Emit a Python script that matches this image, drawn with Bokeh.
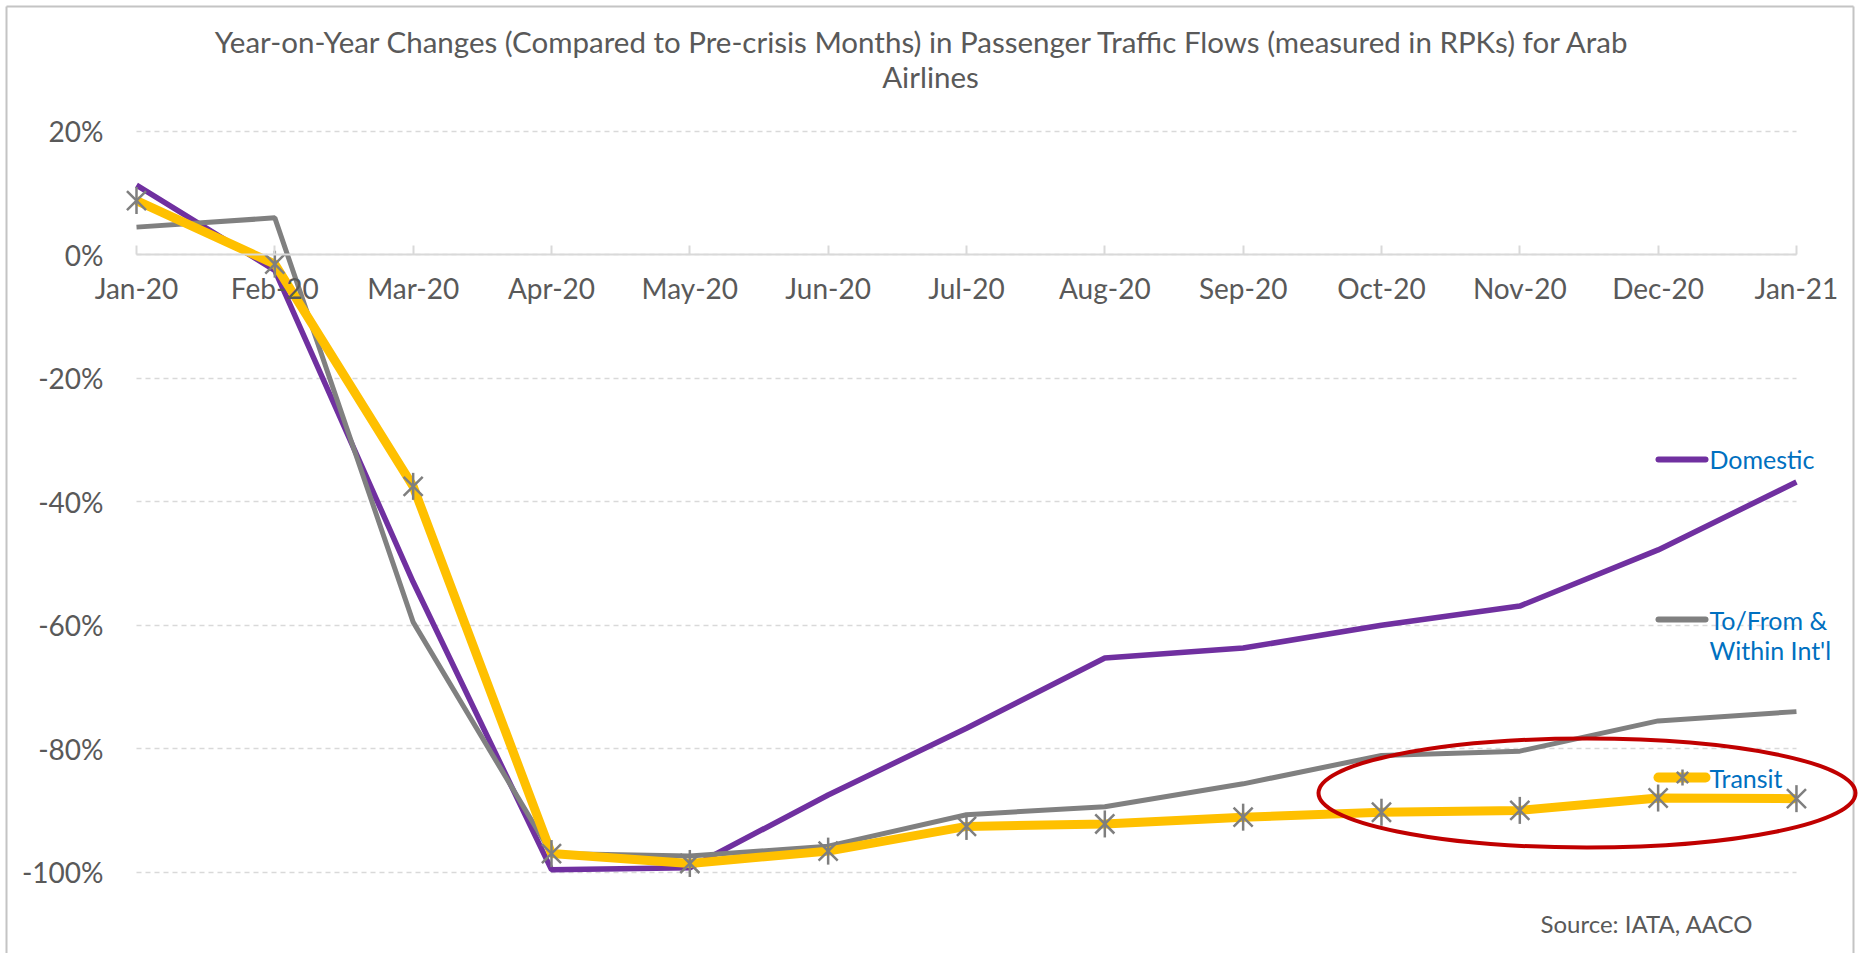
import numpy as np
from bokeh.plotting import figure
from bokeh.models import Range1d, LinearAxis, FixedTicker, Label, ColumnDataSource
from bokeh.embed import file_html
from bokeh.resources import INLINE
from bokeh.core.properties import value

# ---------------- data ----------------
months = ["Jan-20", "Feb-20", "Mar-20", "Apr-20", "May-20", "Jun-20", "Jul-20",
          "Aug-20", "Sep-20", "Oct-20", "Nov-20", "Dec-20", "Jan-21"]
domestic = [11.3, -2.5, -53.0, -99.6, -99.3, -87.5, -76.7, -65.3, -63.7, -60.0, -56.9, -47.8, -36.8]
intl = [4.5, 6.0, -59.5, -97.0, -97.4, -95.8, -90.7, -89.4, -85.7, -81.1, -80.4, -75.5, -74.0]
transit = [8.8, -1.5, -37.5, -97.0, -98.6, -96.6, -92.6, -92.2, -91.1, -90.3, -90.0, -88.0, -88.1]
y_ticks = [-100, -80, -60, -40, -20, 0, 20]
title_lines = ["Year-on-Year Changes (Compared  to Pre-crisis Months) in Passenger Traffic  Flows (measured in RPKs) for Arab",
               "Airlines"]
series_names = ["Domestic", "To/From &", "Within Int'l", "Transit"]
source_note = "Source: IATA, AACO"

# ---------------- geometry (canvas pixels) ----------------
X0_PX, STEP_PX = 136.0, 138.33        # Jan-20 position, px per month
Y0_PX, PX_PER_PCT = 254.4, 6.172      # 0% position, px per percent
W, H = 1860, 953

def dx(px):
    return (px - X0_PX) / STEP_PX

def dy(py):
    return (Y0_PX - py) / PX_PER_PCT

FONT = "Lato"
TXT = "#595959"
PURPLE, GREY, GOLD, RED, BLUE = "#7030A0", "#808080", "#FFC000", "#C00000", "#0070C0"

p = figure(width=W, height=H, output_backend="svg", toolbar_location=None,
           x_range=Range1d(dx(0), dx(W)),
           y_range=Range1d(dy(H), dy(0)),
           x_axis_location=None, y_axis_location=None,
           min_border_left=0, min_border_right=0,
           min_border_top=0, min_border_bottom=0)
p.outline_line_color = None
p.background_fill_color = "white"
p.border_fill_color = "white"

# chart border
p.segment(x0=[dx(6), dx(6), dx(1853)], y0=[dy(6), dy(6), dy(6)],
          x1=[dx(6), dx(1853), dx(1853)], y1=[dy(H + 5), dy(6), dy(H + 5)],
          line_color="#C4C4C4", line_width=2)

# grid
p.xgrid.visible = False
p.ygrid.ticker = FixedTicker(ticks=y_ticks)
p.ygrid.grid_line_color = "#D9D9D9"
p.ygrid.grid_line_width = 1.5
p.ygrid.grid_line_dash = "5 4"
try:
    p.ygrid.cross_bounds = (0, len(months) - 1)
except Exception:
    pass

# y axis (labels only), located at Jan-20
yax = LinearAxis(ticker=FixedTicker(ticks=y_ticks),
                 major_label_overrides={v: f"{v}%" for v in y_ticks})
yax.fixed_location = 0
yax.axis_line_color = None
yax.major_tick_line_color = None
yax.minor_tick_line_color = None
yax.major_label_text_font = FONT
yax.major_label_text_font_size = "28px"
yax.major_label_text_color = TXT
yax.major_label_standoff = 27
p.add_layout(yax, "left")

# x axis crossing at 0
xax = LinearAxis(ticker=FixedTicker(ticks=list(range(len(months)))),
                 major_label_overrides={i: m for i, m in enumerate(months)})
xax.fixed_location = 0
xax.bounds = (0, len(months) - 1)
xax.axis_line_color = "#D9D9D9"
xax.axis_line_width = 2
xax.major_tick_line_color = "#D9D9D9"
xax.major_tick_line_width = 2
xax.major_tick_in = 9
xax.major_tick_out = 0
xax.minor_tick_line_color = None
xax.major_label_text_font = FONT
xax.major_label_text_font_size = "28px"
xax.major_label_text_color = TXT
xax.major_label_standoff = 16
p.add_layout(xax, "below")

src = ColumnDataSource(dict(x=list(range(len(months))), dom=domestic, intl=intl, tra=transit))

p.line("x", "dom", source=src, line_color=PURPLE, line_width=5.5)
p.line("x", "intl", source=src, line_color=GREY, line_width=5)
p.line("x", "tra", source=src, line_color=GOLD, line_width=9)
p.scatter("x", "tra", source=src, marker="x", size=27, line_color="#7F7F7F", line_width=2.5)
p.scatter("x", "tra", source=src, marker="dash", angle=np.pi / 2, size=27, line_color="#7F7F7F", line_width=2.5)

# red highlight ellipse
p.ellipse(x=[dx(1586.5)], y=[dy(792.5)], width=[537], height=[109],
          width_units="screen", height_units="screen",
          fill_color=None, line_color=RED, line_width=4)

# legend (inline labels)
leg_x0, leg_x1, leg_tx = dx(1658), dx(1705), dx(1709)
p.segment(x0=[leg_x0], y0=[dy(459)], x1=[leg_x1], y1=[dy(459)], line_color=PURPLE, line_width=6, line_cap="round")
p.segment(x0=[leg_x0], y0=[dy(619)], x1=[leg_x1], y1=[dy(619)], line_color=GREY, line_width=6, line_cap="round")
p.segment(x0=[leg_x0], y0=[dy(777)], x1=[leg_x1], y1=[dy(777)], line_color=GOLD, line_width=10, line_cap="round")
p.scatter(x=[dx(1682)], y=[dy(777)], marker="x", size=16, line_color="#7F7F7F", line_width=2.5)
p.scatter(x=[dx(1682)], y=[dy(777)], marker="dash", angle=np.pi / 2, size=16, line_color="#7F7F7F", line_width=2.5)
p.text(x=[leg_tx] * 4, y=[dy(458), dy(619), dy(649), dy(777)], text=series_names,
       text_font=value(FONT), text_font_size="25px", text_color=BLUE,
       text_baseline="middle", text_align="left")

# title
for txt, base in zip(title_lines, [41.0, 75.5]):
    p.add_layout(Label(x=dx(930), y=dy(base), text=txt, text_align="center",
                       text_baseline="alphabetic", text_font=FONT,
                       text_font_size="29.5px", text_color=TXT))

# source
p.add_layout(Label(x=dx(1540), y=dy(923), text=source_note, text_align="left",
                   text_baseline="alphabetic", text_font=FONT,
                   text_font_size="24px", text_color=TXT))

open("out.html", "w").write(file_html(p, INLINE))
